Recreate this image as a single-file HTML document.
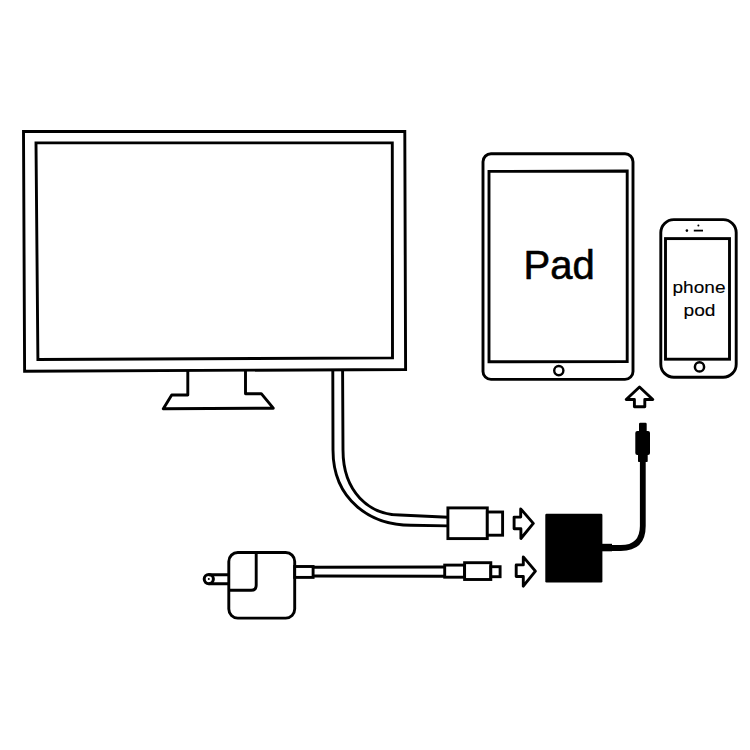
<!DOCTYPE html>
<html><head><meta charset="utf-8">
<style>
html,body{margin:0;padding:0;background:#fff;width:750px;height:750px;overflow:hidden}
svg{display:block}
text{font-family:"Liberation Sans",sans-serif;fill:#000}
</style></head><body>
<svg width="750" height="750" viewBox="0 0 750 750">
<g fill="none" stroke="#000" stroke-width="2.9" stroke-linejoin="miter">
  <!-- monitor -->
  <path d="M23.5 131.5 L404.8 131.5 L405.6 369.5 L24.6 371.2 Z"/>
  <path d="M36 142.9 L392.3 142.9 L392.5 357.9 L37.9 359.5 Z"/>
  <path stroke-linejoin="round" d="M187.8 370.5 L187.8 395 L171.7 395 L163.3 408.8 L273.3 408.2 L261.3 393.7 L245.5 393.7 L245.5 370"/>
  <!-- HDMI cable -->
  <path d="M332.8 370.5 L333 450.1 C333 500.7 371.3 525.3 411 525.3 L448 525.9"/>
  <path d="M342.6 370.5 L343 450 C343 491.8 369.1 515 400 515 L448 517.2"/>
  <!-- HDMI connector -->
  <rect x="447.9" y="507.9" width="39.4" height="30.7" fill="#fff"/>
  <rect x="487.3" y="512" width="15.3" height="23.2" fill="#fff"/>
  <!-- arrows -->
  <g stroke-linejoin="round">
  <path d="M514.1 517.1 L520.7 517.1 L520.7 508.9 L533.3 523.4 L520.9 538.5 L520.9 528.7 L514.1 528.7 Z"/>
  <path d="M516.2 564.9 L523.3 564.9 L523.3 556.9 L535.4 571.1 L523.3 586.2 L523.3 576.5 L516.2 576.5 Z"/>
  <path d="M639.5 387 L652.8 399.5 L644.8 399.5 L644.8 406.7 L634.4 406.7 L634.4 399.5 L626.2 399.5 Z"/>
  </g>
  <!-- iPad -->
  <rect x="483" y="153.8" width="150" height="225.6" rx="8"/>
  <path d="M489 171.4 L627.2 171 L627.2 361.6 L489 361.8 Z"/>
  <circle cx="558.8" cy="370.6" r="4.6" stroke-width="2.4"/>
  <!-- iPhone -->
  <rect x="660.8" y="219.6" width="75.4" height="157.6" rx="13"/>
  <rect x="665.5" y="238.6" width="64" height="120.6"/>
  <circle cx="699.5" cy="366.9" r="4.6" stroke-width="2.5"/>
  <line x1="693.8" y1="230.6" x2="703" y2="230.6" stroke-width="1.8"/>
  <!-- power adapter -->
  <rect x="228.8" y="552.5" width="65.9" height="65.6" rx="9"/>
  <path d="M256.2 552.5 L256.2 585.3 Q256.2 590.3 251.2 590.3 L228.8 590.3"/>
  <path d="M229 574.7 L208.8 574.7 M229 583.7 L208.8 583.7"/>
  <circle cx="208.8" cy="579.1" r="4.6" stroke-width="3"/>
  <rect x="294.7" y="566.5" width="18.4" height="10.9" fill="#fff"/>
  <path d="M313.1 567.2 L444.7 567 M313.1 576 L444.7 576.3"/>
  <rect x="444.7" y="565.1" width="19.9" height="12.1" fill="#fff"/>
  <rect x="464.6" y="562.7" width="26.2" height="16.8" fill="#fff"/>
  <rect x="490.8" y="566.7" width="9.3" height="10" fill="#fff"/>
</g>
<g fill="#000" stroke="none">
  <circle cx="698.4" cy="225.4" r="1"/>
  <circle cx="686.9" cy="230.6" r="1.3"/>
  <circle cx="208.8" cy="579.1" r="1"/>
  <!-- adapter box -->
  <rect x="545.3" y="513.7" width="57.1" height="68.8" rx="1.2"/>
  <!-- lightning connector -->
  <rect x="639" y="422.7" width="7.7" height="9.5" rx="1.2"/>
  <rect x="635.3" y="431" width="14.7" height="24" rx="2"/>
  <rect x="638" y="453" width="9.7" height="9" rx="0.8"/>
  <rect x="602" y="543.8" width="10" height="7.5"/>
</g>
<path d="M642.8 460 L642.8 526 Q642.8 548 620.8 548 L605 548" fill="none" stroke="#000" stroke-width="5.8"/>
<text x="523.5" y="278.6" font-size="40" stroke="#000" stroke-width="0.6">Pad</text>
<text x="672.5" y="292.9" font-size="17" stroke="#000" stroke-width="0.12" textLength="53" lengthAdjust="spacingAndGlyphs">phone</text>
<text x="683.5" y="315.8" font-size="17" stroke="#000" stroke-width="0.12" textLength="32" lengthAdjust="spacingAndGlyphs">pod</text>
</svg>
</body></html>
